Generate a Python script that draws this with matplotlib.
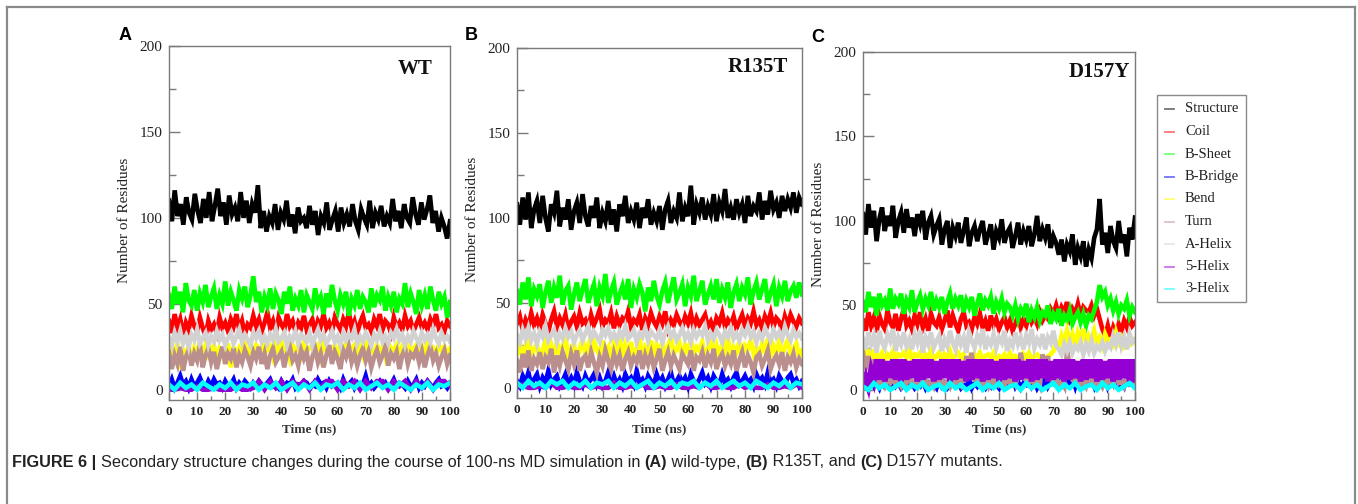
import numpy as np
import matplotlib
matplotlib.use("Agg")
import matplotlib.pyplot as plt
from matplotlib import font_manager
from matplotlib.patches import Rectangle
from matplotlib.lines import Line2D
from matplotlib.ticker import MultipleLocator

# ---------------- data ----------------
series_names = ["Structure", "Coil", "B-Sheet", "B-Bridge", "Bend", "Turn",
                "A-Helix", "5-Helix", "3-Helix"]
series_colors = ["#000000", "#ff0000", "#00ff00", "#0000ff", "#ffff00",
                 "#bc8f8f", "#d2d2d2", "#9400d3", "#00ffff"]
panel_letters = ["A", "B", "C"]
panel_titles = ["WT", "R135T", "D157Y"]
x_ticks = [0, 10, 20, 30, 40, 50, 60, 70, 80, 90, 100]
y_ticks = [0, 50, 100, 150, 200]

# ---- WT ----
wt_structure = [110, 98, 116, 101, 108, 96, 112, 103, 99, 114, 104, 97, 111, 100, 115, 98, 107, 117, 101, 109, 96, 113, 102, 106, 98, 115, 100, 110, 97, 108, 103, 119,
                94, 104, 92, 101, 97, 108, 93, 103, 99, 110, 95, 102, 91, 106, 98, 100, 94, 107, 96, 104, 90, 101, 97, 109, 93, 99, 104, 92, 106, 97, 102, 95, 108, 98, 93, 105, 100, 96, 110, 94, 103, 99, 107, 95, 101, 97, 111, 98, 104, 94, 108, 100, 97, 112, 102, 96, 109, 99, 105, 113, 97, 104, 92, 100, 95, 88, 98]
wt_coil = [40, 33, 44, 36, 41, 32, 39, 35, 43, 37, 34, 42, 36, 31, 40, 35, 38, 33, 42, 36, 39, 34, 41, 37, 44, 35, 40, 32, 38, 36, 43, 37, 41, 34, 39, 45, 36, 40, 33, 42, 38, 35, 44, 37, 40, 34, 39, 36, 43, 35, 38, 41, 33, 40, 37, 44, 36, 39, 34, 42, 38, 35, 41, 37, 45, 36, 40, 33, 39, 43, 36, 38, 34, 41, 37, 44, 35, 40, 38, 33, 42, 36, 39, 35, 43, 37, 40, 34, 38, 42, 36, 39, 35, 41, 37, 44, 36, 38, 34, 40, 37]
wt_sheet = [55, 47, 60, 50, 57, 45, 62, 52, 49, 58, 46, 56, 51, 61, 48, 54, 59, 47, 55, 50, 63, 49, 57, 52, 46, 58, 53, 60, 48, 55, 66, 51, 57, 45, 54, 49, 59, 47, 56, 52, 44, 57, 50, 60, 46, 53, 49, 58, 45, 55, 51, 47, 59, 50, 54, 44, 56, 48, 61, 52, 46, 55, 50, 57, 43, 53, 49, 58, 47, 54, 51, 45, 59, 48, 55, 52, 60, 46, 54, 49, 57, 45, 53, 50, 62, 48, 56, 51, 44, 58, 49, 55, 47, 60, 52, 46, 57, 50, 54, 42, 51]
wt_bridge = [2, 6, 1, 4, 8, 3, 5, 1, 6, 2, 4, 7, 3, 1, 5, 2, 6, 3, 4, 1, 5, 2, 3, 6, 1, 4, 2, 5, 3, 1, 4, 2, 5, 3, 1, 4, 6, 2, 3, 1, 5, 2, 4, 3, 6, 1, 3, 2, 5, 4, 1, 3, 2, 6, 3, 4, 1, 5, 2, 3, 4, 1, 6, 2, 3, 5, 1, 4, 2, 3, 8, 2, 4, 1, 3, 5, 2, 4, 1, 3, 6, 2, 4, 3, 1, 5, 2, 3, 6, 1, 4, 2, 5, 3, 1, 4, 6, 2, 3, 1, 4]
wt_bend = [14, 25, 18, 27, 12, 23, 19, 26, 16, 24, 21, 28, 17, 25, 20, 23, 26, 18, 24, 22, 15, 27, 13, 25, 19, 24, 21, 27, 18, 25, 22, 26, 24, 20, 27, 23, 25, 19, 26, 22, 28, 21, 24, 18, 26, 23, 25, 20, 27, 22, 24, 26, 21, 25, 19, 27, 23, 24, 22, 26, 20, 25, 23, 27, 21, 24, 26, 22, 25, 20, 27, 23, 24, 21, 26, 22, 25, 19, 27, 24, 23, 26, 21, 25, 22, 28, 20, 24, 26, 23, 25, 21, 27, 22, 24, 20, 26, 23, 25, 21, 24]
wt_turn = [22, 12, 20, 15, 25, 11, 19, 23, 14, 21, 17, 26, 13, 20, 24, 16, 22, 12, 19, 25, 15, 21, 18, 24, 13, 20, 16, 23, 19, 14, 22, 18, 25, 15, 21, 12, 20, 24, 16, 19, 22, 13, 21, 25, 17, 20, 14, 23, 18, 22, 11, 19, 24, 16, 21, 13, 20, 26, 15, 22, 18, 12, 23, 19, 25, 16, 21, 14, 20, 24, 17, 22, 13, 19, 23, 16, 20, 25, 14, 21, 18, 22, 12, 20, 24, 15, 21, 19, 23, 16, 22, 13, 20, 25, 17, 21, 14, 19, 23, 15, 20]
wt_ahelix = [30, 26, 33, 28, 34, 27, 31, 25, 32, 29, 35, 27, 30, 33, 26, 31, 28, 34, 29, 32, 26, 30, 33, 27, 31, 35, 28, 32, 29, 26, 33, 30, 34, 28, 31, 27, 32, 29, 35, 28, 30, 33, 26, 31, 29, 34, 27, 32, 30, 28, 33, 26, 31, 35, 29, 32, 27, 30, 34, 28, 31, 26, 33, 29, 32, 30, 35, 27, 31, 28, 33, 30, 26, 32, 29, 34, 28, 31, 27, 33, 30, 35, 29, 32, 26, 31, 28, 34, 30, 27, 33, 29, 32, 28, 35, 30, 27, 33, 29, 31, 28]
wt_5helix = [0, 0, 1, 0, 0, 2, 0, 0, 1, 0, 0, 0, 2, 0, 0, 1,
             5, 0, 5, 1, 5, 0, 5, 2, 5, 0, 5, 1, 5, 5, 0, 5, 2, 5, 0, 5, 1, 5, 5, 0, 5, 2, 5, 0, 5, 1, 5, 0, 5, 5, 2]
wt_3helix = [3, 0, 4, 1, 3, 0, 4, 2, 0, 3, 1, 4, 0, 3, 2, 4, 0, 3, 1, 4, 0, 2, 4, 0, 3, 1, 4, 0, 3, 2, 4, 0, 3, 1, 4, 0, 2, 4, 1, 3, 0, 4, 2, 0, 3, 1, 4, 0, 3, 2, 4]

# ---- R135T ----
r135t_structure = [108, 96, 112, 99, 115, 94, 105, 110, 97, 113, 100, 92, 108, 103, 116, 95, 106, 99, 111, 93, 104, 109, 97, 114, 101, 95, 107, 100, 112, 94, 103, 98, 110, 96, 105, 92, 108, 101, 113, 97, 104, 99, 109, 94, 106, 100, 111, 96, 103, 98, 107, 93, 105, 110, 97, 104, 100, 115, 98, 106, 101, 119, 96, 108, 103, 112, 99, 107, 102, 114, 98, 109, 104, 117, 100, 106, 99, 111, 103, 108, 97, 113, 101, 107, 104, 115, 99, 110, 102, 116, 105, 109, 100, 113, 104, 111, 106, 115, 103, 112, 108]
r135t_coil = [38, 42, 34, 40, 36, 44, 37, 41, 35, 43, 38, 33, 40, 45, 36, 41, 37, 43, 34, 39, 42, 36, 44, 38, 40, 35, 43, 37, 41, 46, 36, 40, 38, 44, 35, 42, 37, 41, 39, 45, 36, 40, 38, 43, 34, 41, 37, 44, 39, 36, 42, 38, 45, 35, 40, 37, 43, 39, 36, 42, 38, 44, 35, 41, 37, 40, 43, 36, 39, 34, 41, 38, 44, 36, 40, 37, 42, 35, 39, 43, 36, 41, 38, 45, 37, 40, 35, 42, 38, 44, 36, 41, 39, 34, 42, 37, 43, 39, 36, 41, 38]
r135t_sheet = [57, 49, 62, 52, 65, 48, 58, 54, 61, 47, 56, 63, 50, 59, 53, 66, 49, 57, 60, 46, 55, 62, 51, 58, 64, 50, 56, 61, 48, 59, 54, 67, 50, 57, 62, 49, 55, 60, 52, 64, 47, 58, 53, 61, 56, 45, 59, 51, 63, 54, 49, 57, 62, 50, 58, 65, 52, 56, 61, 48, 59, 54, 66, 51, 57, 63, 49, 55, 60, 52, 64, 50, 58, 53, 62, 47, 56, 61, 51, 59, 55, 65, 49, 57, 62, 52, 58, 64, 50, 56, 61, 48, 59, 54, 63, 51, 57, 60, 53, 62, 55]
r135t_bridge = [4, 1, 7, 3, 9, 2, 5, 8, 1, 6, 3, 10, 2, 5, 7, 1, 4, 8, 3, 6, 2, 9, 4, 1, 7, 3, 5, 8, 2, 6, 1, 4, 9, 3, 7, 2, 5, 1, 8, 4, 6, 2, 10, 3, 5, 1, 7, 4, 2, 8, 3, 6, 1, 5, 9, 2, 4, 7, 3, 6, 1, 8, 4, 2, 5, 9, 3, 6, 1, 7, 4, 2, 8, 3, 5, 1, 6, 9, 2, 4, 7, 3, 5, 1, 8, 4, 6, 2, 9, 3, 5, 1, 7, 4, 2, 6, 8, 3, 5, 1, 4]
r135t_bend = [20, 27, 16, 24, 29, 18, 23, 26, 15, 22, 28, 19, 25, 17, 27, 21, 24, 30, 18, 23, 26, 16, 22, 29, 20, 25, 17, 27, 23, 19, 28, 21, 24, 16, 26, 22, 30, 18, 25, 20, 27, 17, 23, 29, 19, 24, 21, 28, 16, 25, 22, 27, 18, 24, 30, 20, 23, 26, 17, 25, 21, 29, 19, 24, 22, 27, 16, 23, 28, 20, 25, 18, 26, 22, 30, 19, 24, 21, 27, 17, 25, 23, 28, 20, 24, 16, 26, 22, 29, 18, 25, 21, 27, 19, 24, 28, 20, 23, 26, 18, 22]
r135t_turn = [16, 9, 20, 12, 22, 10, 17, 14, 21, 11, 18, 15, 23, 9, 19, 13, 21, 16, 11, 20, 14, 22, 10, 17, 19, 12, 21, 15, 9, 18, 13, 22, 16, 11, 20, 14, 19, 10, 17, 21, 13, 18, 15, 22, 11, 19, 14, 20, 12, 17, 23, 10, 16, 21, 13, 19, 15, 11, 20, 17, 14, 22, 10, 18, 16, 21, 12, 19, 15, 23, 11, 17, 20, 13, 18, 14, 22, 10, 16, 21, 12, 19, 15, 9, 18, 20, 13, 17, 22, 11, 16, 19, 14, 21, 10, 18, 15, 20, 12, 17, 14]
r135t_ahelix = [31, 27, 34, 29, 35, 28, 32, 26, 33, 30, 36, 28, 31, 34, 27, 32, 29, 35, 30, 33, 27, 31, 34, 28, 32, 36, 29, 33, 30, 27, 34, 31, 35, 29, 32, 28, 33, 30, 36, 29, 31, 34, 27, 32, 30, 35, 28, 33, 31, 29, 34, 27, 32, 36, 30, 33, 28, 31, 35, 29, 32, 27, 34, 30, 33, 31, 36, 28, 32, 29, 34, 31, 27, 33, 30, 35, 29, 32, 28, 34, 31, 36, 30, 33, 27, 32, 29, 35, 31, 28, 34, 30, 33, 29, 36, 31, 28, 34, 30, 32, 29]
r135t_5helix = [0, 2, 0, 0, 1, 0, 3, 0, 0, 1, 0, 0, 2, 0, 1, 0, 0, 3, 0, 0, 1, 0, 2, 0, 0, 1, 0, 0, 2, 0, 0, 1, 0, 3, 0, 0, 1, 0, 0, 2, 0, 1, 0, 0, 2, 0, 0, 1, 0, 2, 0]
r135t_3helix = [3, 0, 4, 1, 3, 0, 4, 2, 4, 0, 3, 1, 4, 0, 3, 2, 4, 0, 3, 1, 4, 0, 2, 4, 0, 3, 1, 4, 0, 3, 2, 4, 0, 3, 1, 4, 0, 2, 4, 1, 3, 0, 4, 2, 0, 3, 1, 4, 0, 3, 2]

# ---- D157Y ----
d157y_structure = [104, 92, 110, 96, 106, 88, 101, 108, 94, 103, 97, 109, 90, 100, 105, 93, 107, 96, 102, 91, 104, 98, 106, 89, 99, 103, 92, 97, 101, 86, 95, 100, 84, 96, 91, 99, 87, 94, 102, 85, 93, 97, 88, 95, 100, 86, 92, 98, 83, 94, 90, 101, 87, 93, 96, 84, 91, 99, 86, 94, 89, 97, 85, 92, 103, 88, 95, 90, 98, 84, 91, 87, 80, 89, 76, 86, 82, 92, 74, 84, 79, 88, 73, 83, 78, 90, 95, 113, 86, 93, 81, 97, 88, 84, 100, 87, 92, 79, 96, 89, 102]
d157y_coil = [41, 35, 46, 38, 43, 34, 44, 39, 36, 47, 40, 37, 45, 35, 42, 48, 38, 41, 36, 44, 39, 46, 37, 42, 35, 45, 40, 38, 43, 36, 41, 47, 37, 44, 39, 35, 42, 46, 38, 40, 36, 43, 39, 45, 37, 41, 35, 44, 38, 42, 36, 40, 43, 37, 41, 35, 39, 44, 37, 42, 38, 45, 40, 43, 39, 46, 41, 44, 42, 48, 45, 50, 44, 49, 46, 52, 43, 48, 45, 51, 44, 49, 47, 46, 50, 44, 48, 42, 36, 32, 38, 31, 37, 33, 39, 35, 41, 37, 43, 38, 40]
d157y_sheet = [52, 46, 58, 49, 55, 44, 57, 50, 53, 47, 60, 48, 54, 51, 57, 45, 53, 49, 59, 46, 52, 56, 48, 54, 50, 58, 47, 53, 49, 55, 45, 52, 57, 48, 54, 50, 56, 46, 53, 49, 55, 44, 51, 57, 47, 53, 50, 55, 45, 52, 48, 54, 46, 51, 49, 44, 50, 42, 48, 45, 51, 40, 47, 43, 49, 41, 46, 44, 50, 39, 45, 42, 48, 38, 44, 41, 47, 39, 43, 46, 40, 45, 38, 44, 42, 47, 52, 62, 55, 58, 50, 54, 47, 52, 45, 50, 48, 53, 44, 49, 46]
d157y_bridge = [3, 7, 1, 5, 2, 4, 1, 6, 2, 3, 1, 5, 2, 4, 1, 3, 6, 2, 4, 1, 3, 2, 5, 1, 4, 2, 3, 1, 6, 2, 4, 1, 3, 5, 2, 4, 1, 3, 2, 6, 1, 4, 2, 5, 3, 1, 4, 2, 6, 3, 1, 5, 2, 4, 3, 7, 2, 5, 1, 4, 3, 6, 2, 5, 1, 4, 3, 7, 2, 5, 4, 8, 2, 6, 3, 9, 4, 7, 2, 8, 5, 3, 10, 4, 6, 2, 7, 3, 5, 8, 2, 6, 4, 7, 3, 5, 2, 8, 4, 6, 3]
d157y_bend = [22, 26, 18, 24, 15, 21, 19, 22, 18, 21, 19, 23, 18, 21, 20, 22, 19, 24, 18, 21, 20, 22, 17, 21, 19, 23, 18, 20, 22, 17, 21, 19, 23, 18, 20, 22, 19, 21, 12, 18, 14, 21, 19, 22, 18, 20, 21, 19, 22, 18, 20, 19, 21, 18, 22, 19, 20, 18, 13, 21, 19, 22, 18, 20, 21, 19, 12, 16, 20, 21, 23, 28, 25, 32, 27, 35, 29, 33, 26, 34, 30, 36, 27, 32, 29, 35, 28, 31, 26, 33, 29, 30, 27, 34, 28, 31, 26, 29, 27, 30, 28]
d157y_turn = [22, 12, 20, 10, 18, 8, 3, 5, 2, 6, 4, 7, 3, 5, 2, 6, 4, 8, 3, 5, 2, 7, 4, 6, 3, 5, 2, 8, 4, 6, 3, 5, 2, 7, 4, 6, 3, 8, 20, 12, 22, 6, 4, 7, 3, 5, 2, 8, 4, 6, 3, 5, 2, 7, 4, 6, 3, 8, 22, 13, 5, 4, 7, 3, 5, 2, 21, 14, 20, 6, 4, 7, 3, 5, 2, 23, 15, 6, 4, 7, 3, 5, 2, 8, 4, 6, 3, 5, 2, 7, 4, 6, 3, 8, 4, 5, 2, 7, 4, 6, 3]
d157y_ahelix = [30, 24, 34, 27, 32, 22, 35, 28, 25, 33, 29, 36, 23, 31, 27, 34, 26, 30, 24, 33, 28, 35, 22, 31, 27, 34, 25, 29, 32, 23, 30, 26, 35, 28, 24, 33, 27, 31, 22, 34, 29, 25, 32, 28, 36, 24, 30, 27, 33, 25, 31, 28, 35, 23, 29, 26, 34, 27, 31, 24, 32, 28, 36, 25, 30, 27, 33, 24, 31, 28, 35, 26,
                24, 21, 27, 23, 28, 22, 26, 24, 28, 21, 27, 23, 29, 22, 26, 24, 28, 23, 27,
                25, 32, 27, 34, 26, 31, 24, 33, 28, 30]
d157y_5helix = [3, 8, 2, 12, 6, 18, 6, 18, 5, 17, 7, 18, 6, 18, 5, 18, 6, 17, 7, 18, 5, 18, 6, 18, 7, 18, 5, 17, 6, 18, 7, 18, 5, 18, 6, 18, 7, 17, 5, 18, 6, 18, 7, 18, 5, 18, 6, 18, 7, 17, 5, 18, 6, 18, 7, 18, 5, 18, 6, 17, 7, 18, 5, 18, 6, 18, 7, 18, 5, 17, 6, 18, 7, 18, 5, 18, 6, 18, 7, 17, 5, 18, 6, 18, 7, 18, 5, 18, 6, 17, 7, 18, 5, 18, 6, 18, 7, 18, 5, 18, 6]
d157y_3helix = [2, 0, 4, 1, 3, 0, 2, 4, 0, 3, 1, 4, 0, 2, 3, 0, 4, 1, 3, 0, 2, 4, 0, 3, 1, 4, 0, 2, 3, 0, 4, 1, 3, 0, 2, 4, 0, 3, 1, 4, 0, 2, 3, 0, 4, 1, 3, 0, 2, 4, 1]

panels_data = [
    [wt_structure, wt_coil, wt_sheet, wt_bridge, wt_bend, wt_turn, wt_ahelix, wt_5helix, wt_3helix],
    [r135t_structure, r135t_coil, r135t_sheet, r135t_bridge, r135t_bend, r135t_turn, r135t_ahelix, r135t_5helix, r135t_3helix],
    [d157y_structure, d157y_coil, d157y_sheet, d157y_bridge, d157y_bend, d157y_turn, d157y_ahelix, d157y_5helix, d157y_3helix],
]

caption_parts = [
    ("FIGURE 6 | ", "bold"),
    ("Secondary structure changes during the course of 100-ns MD simulation in ", "normal"),
    ("(A)", "bold"), (" wild-type, ", "normal"),
    ("(B)", "bold"), (" R135T, and ", "normal"),
    ("(C)", "bold"), (" D157Y mutants.", "normal"),
]

# ---------------- layout ----------------
W, H = 1358, 504
fig = plt.figure(figsize=(W / 100, H / 100), dpi=100)

def fx(px):
    return px / W

def fy(py):
    return 1 - py / H

installed = {f.name for f in font_manager.fontManager.ttflist}
serif = "Liberation Serif"
sans = "Liberation Sans"
cap_family = "Liberation Sans Narrow" if "Liberation Sans Narrow" in installed else "Liberation Sans"

# outer frame (open at bottom)
frame_col = "#8a8a8a"
fig.add_artist(Line2D([fx(7), fx(7)], [fy(7), 0], transform=fig.transFigure, color=frame_col, lw=1.6))
fig.add_artist(Line2D([fx(7), fx(1355)], [fy(7), fy(7)], transform=fig.transFigure, color=frame_col, lw=1.6))
fig.add_artist(Line2D([fx(1355), fx(1355)], [fy(7), 0], transform=fig.transFigure, color=frame_col, lw=1.6))

# axes boxes in px: left, top, right, bottom
boxes = [(169, 46, 450, 400), (517, 48, 802, 398), (863, 52, 1135, 400)]
letter_pos = [(125, 35), (471, 35), (818, 37)]
ylabel_pos = [(125, 220), (473, 219), (819, 224)]
title_pos = [(0.9395, 0.935), (0.951, 0.946), (0.982, 0.943)]
spine_col = "#7a7a7a"

for i, (l, t, r, b) in enumerate(boxes):
    ax = fig.add_axes([fx(l), fy(b), (r - l) / W, (b - t) / H])
    for k, vals in enumerate(panels_data[i]):
        tt = np.linspace(0, 100, len(vals))
        lw = 3.3
        if series_names[k] == "5-Helix" and i == 2:
            lw = 4.0
        ax.plot(tt, vals, color=series_colors[k], lw=lw, zorder=2 + k * 0.01,
                solid_joinstyle="miter")
    ax.set_xlim(0, 100)
    ax.set_ylim(-6, 200)
    ax.set_xticks(x_ticks)
    ax.set_yticks(y_ticks)
    ax.xaxis.set_minor_locator(MultipleLocator(5))
    ax.yaxis.set_minor_locator(MultipleLocator(25))
    ax.tick_params(axis="x", which="major", direction="in", length=6, width=1,
                   color=spine_col, pad=4, labelsize=9.5, labelcolor="#222222")
    ax.tick_params(axis="x", which="minor", direction="in", length=3, width=1, color=spine_col)
    ax.tick_params(axis="y", which="major", direction="in", length=8, width=1,
                   color=spine_col, pad=4.5, labelsize=11, labelcolor="#222222")
    ax.tick_params(axis="y", which="minor", direction="in", length=5, width=1, color=spine_col)
    for lab in ax.get_xticklabels():
        lab.set_fontfamily(serif)
        lab.set_fontweight("bold")
    for lab in ax.get_yticklabels():
        lab.set_fontfamily(serif)
    for sp in ax.spines.values():
        sp.set_color(spine_col)
        sp.set_linewidth(1.0)
        sp.set_zorder(5)
    ax.text(title_pos[i][0], title_pos[i][1], panel_titles[i], transform=ax.transAxes,
            ha="right", va="center", fontsize=15, fontweight="bold", family=serif, color="#111111")
    fig.text(fx((l + r) / 2), fy(429), "Time (ns)", ha="center", va="center",
             fontsize=9.5, fontweight="bold", family=serif, color="#333333")
    fig.text(fx(ylabel_pos[i][0]), fy(ylabel_pos[i][1]), "Number of Residues", rotation=90,
             ha="center", va="center", fontsize=11, family=serif, color="#222222")
    fig.text(fx(letter_pos[i][0]), fy(letter_pos[i][1]), panel_letters[i], ha="center", va="center",
             fontsize=13, fontweight="bold", family=sans, color="#000000")

# legend (drawn manually)
fig.add_artist(Rectangle((fx(1157), fy(302)), (1246 - 1157) / W, (302 - 95) / H,
                         transform=fig.transFigure, fill=False, edgecolor="#8a8a8a", lw=1.0))
for k, name in enumerate(series_names):
    yy = 109 + k * 22.5
    fig.add_artist(Line2D([fx(1165), fx(1174)], [fy(yy), fy(yy)], transform=fig.transFigure,
                          color=series_colors[k], lw=1.3, alpha=0.55))
    fig.text(fx(1185), fy(yy), name, ha="left", va="center", fontsize=10.5,
             family=serif, color="#222222")

# caption with mixed weights, sized to span the same width as the original
renderer = fig.canvas.get_renderer()
cap_fs = 13 * 990 / 1096
x_cur = 12
for txt, wt in caption_parts:
    tobj = fig.text(fx(x_cur), fy(462), txt, ha="left", va="center", fontsize=cap_fs,
                    fontweight=wt, family=cap_family, color="#222222")
    bb = tobj.get_window_extent(renderer)
    x_cur += bb.width

fig.savefig("out.png", dpi=100)
